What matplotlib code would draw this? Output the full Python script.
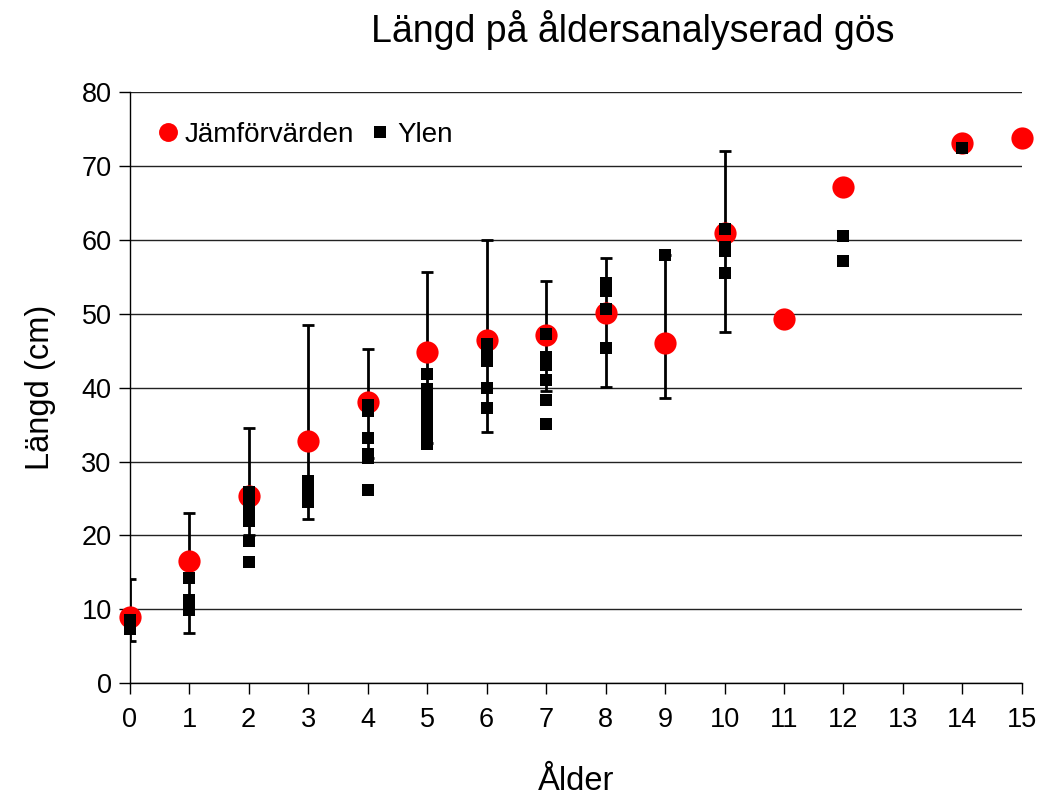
import matplotlib.pyplot as plt

plt.rcParams['font.family'] = ['Liberation Sans', 'DejaVu Sans']

# Jämförvärden (medellängd per ålder)
ref_age = [0, 1, 2, 3, 4, 5, 6, 7, 8, 9, 10, 11, 12, 14, 15]
ref_len = [8.9, 16.5, 25.4, 32.8, 38.0, 44.8, 46.4, 47.1, 50.1, 46.0, 61.0, 49.3, 67.1, 73.1, 73.8]

# spridning kring jämförvärdena, ålder 0-10
err_age = [0, 1, 2, 3, 4, 5, 6, 7, 8, 9, 10]
err_low = [5.7, 6.8, 20.0, 22.2, 30.5, 32.5, 34.0, 39.5, 40.1, 38.6, 47.6]
err_high = [14.1, 23.1, 34.5, 48.5, 45.2, 55.7, 60.0, 54.4, 57.5, 58.0, 72.0]

# Ylen, enskilda fiskar
ylen_age = ([0] * 2 + [1] * 4 + [2] * 8 + [3] * 4 + [4] * 6 + [5] * 10
            + [6] * 5 + [7] * 6 + [8] * 4 + [9] + [10] * 4 + [12] * 2 + [14])
ylen_len = [8.5, 7.3,
            14.3, 11.3, 10.5, 9.9,
            25.9, 25.2, 24.4, 23.6, 22.9, 21.9, 19.2, 16.4,
            27.4, 26.6, 25.5, 24.5,
            37.6, 36.8, 33.2, 31.0, 30.5, 26.1,
            41.8, 39.8, 38.9, 38.1, 37.3, 36.5, 35.6, 34.6, 33.4, 32.4,
            45.9, 44.9, 43.6, 39.9, 37.3,
            47.2, 44.2, 43.1, 41.0, 38.3, 35.1,
            54.1, 53.1, 50.6, 45.4,
            58.0,
            61.5, 59.0, 58.5, 55.5,
            60.5, 57.1,
            72.5]

xticks = list(range(0, 16))
yticks = list(range(0, 81, 10))

fig = plt.figure(figsize=(10.46, 8.01), dpi=100)
ax = fig.add_axes([0.124, 0.147, 0.853, 0.738])

ax.set_yticks(yticks)
ax.yaxis.grid(True, color='#222222', linewidth=1.0)
ax.set_axisbelow(True)

mid = [ref_len[ref_age.index(a)] for a in err_age]
lo = [m - l for m, l in zip(mid, err_low)]
hi = [h - m for m, h in zip(mid, err_high)]
ax.errorbar(err_age, mid, yerr=[lo, hi], fmt='none', ecolor='black',
            elinewidth=2.0, capsize=4.5, capthick=2.0, zorder=2)

ax.plot(ref_age, ref_len, 'o', color='#ff0000', markersize=16,
        markeredgewidth=0, label='Jämförvärden', zorder=3, clip_on=False)
ax.plot(ylen_age, ylen_len, 's', color='black', markersize=8.5,
        markeredgewidth=0, label='Ylen', zorder=4, clip_on=False)

ax.set_xlim(0, 15)
ax.set_ylim(0, 80)
ax.set_xticks(xticks)
ax.tick_params(axis='both', labelsize=19.5, length=8, width=1, direction='out')
ax.tick_params(axis='x', pad=9)
ax.tick_params(axis='y', pad=5)
for s in ['top', 'right']:
    ax.spines[s].set_visible(False)
for s in ['left', 'bottom']:
    ax.spines[s].set_linewidth(1)
ax.spines['bottom'].set_zorder(5)

ax.set_xlabel('Ålder', fontsize=23.5, labelpad=24)
ax.set_ylabel('Längd (cm)', fontsize=23.5, labelpad=18)

fig.text(0.605, 0.962, 'Längd på åldersanalyserad gös', fontsize=27,
         ha='center', va='center')

leg = ax.legend(loc='upper left', bbox_to_anchor=(0.004, 0.992), ncol=2,
                frameon=False, fontsize=20, handlelength=0.7,
                handletextpad=0.25, columnspacing=0.6, markerscale=0.85)
leg.legend_handles[1].set_markersize(8.5)

fig.savefig('out.png', dpi=100)
